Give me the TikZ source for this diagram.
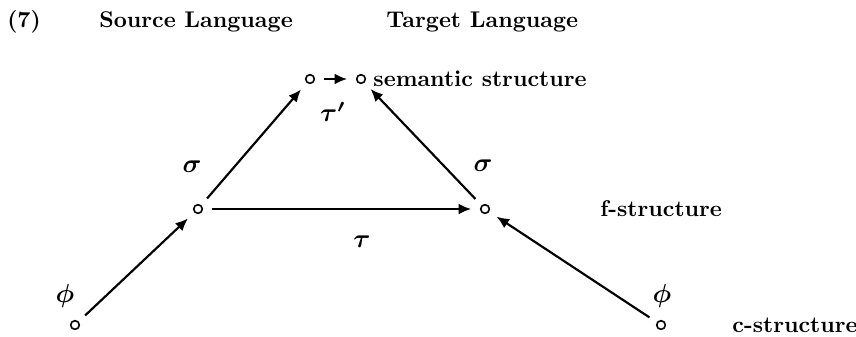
\documentclass[tikz,border=0pt]{standalone}
\usepackage{bm}
\usetikzlibrary{arrows.meta}
\begin{document}
\begin{tikzpicture}[x=0.44pt,y=-0.44pt,
  pt/.style={circle,draw,line width=0.7pt,inner sep=0pt,minimum size=3.8pt,outer sep=4.2pt},
  lbl/.style={font=\bfseries,inner sep=0pt},
  gk/.style={inner sep=0pt,scale=1.15},
  arr/.style={line width=0.95pt,-{Latex[length=5.5pt,width=4.8pt]}}]
\useasboundingbox (0,0) rectangle (856,336);
\node[lbl] (num) at (24,22) {(7)};
\node[lbl] (src) at (196,22) {Source Language};
\node[lbl,anchor=west] (tgt) at (386,22) {Target Language};
% points
\node[pt] (sl) at (310,79) {};
\node[pt] (sr) at (361,79) {};
\node[pt] (fl) at (198,209) {};
\node[pt] (fr) at (485,209) {};
\node[pt] (cl) at (75,325) {};
\node[pt] (cr) at (661,325) {};
% texts
\node[lbl,anchor=west] (sem) at (373,79) {semantic structure};
\node[lbl,anchor=west] (fst) at (600,209) {f-structure};
\node[lbl,anchor=west] (cst) at (732,325) {c-structure};
% greek labels
\node[gk] (tp) at (333,112) {$\bm{\tau'}$};
\node[gk] (sgl) at (192,167) {$\bm{\sigma}$};
\node[gk] (sgr) at (483,166) {$\bm{\sigma}$};
\node[gk] (tau) at (362,242) {$\bm{\tau}$};
\node[gk] (phl) at (65,296) {$\bm{\phi}$};
\node[gk] (phr) at (662,296) {$\bm{\phi}$};
% arrows
\draw[arr] (sl) -- (sr);
\draw[arr] (fl) -- (fr);
\draw[arr] (cl) -- (fl);
\draw[arr] (fl) -- (sl);
\draw[arr] (cr) -- (fr);
\draw[arr] (fr) -- (sr);
\end{tikzpicture}
\end{document}
